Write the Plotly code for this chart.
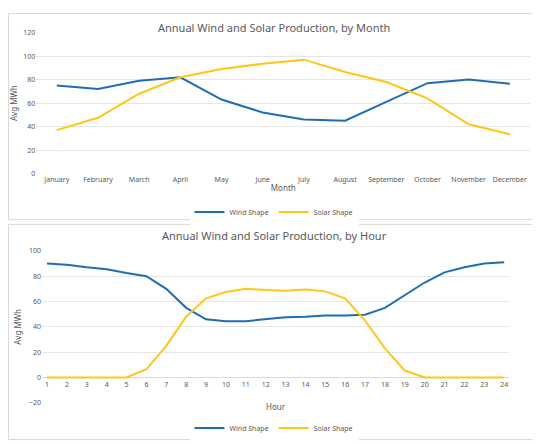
import plotly.graph_objects as go
from plotly.subplots import make_subplots

months = ["January", "February", "March", "April", "May", "June", "July",
          "August", "September", "October", "November", "December"]
month_wind = [75, 72, 79, 82, 63, 52, 46, 45, 61, 77, 80, 76.5]
month_solar = [37, 47.5, 68, 82, 89, 93.5, 97, 86.5, 78, 64, 42, 33.5]

hours = list(range(1, 25))
hour_wind = [90, 89, 87, 85.5, 82.5, 80, 70, 55, 46, 44.5, 44.5, 46, 47.5, 48,
             49, 49, 49.5, 55, 65, 75, 83, 87, 90, 91]
hour_solar = [0, 0, 0, 0, 0, 6.5, 25, 48, 62.5, 67.5, 70, 69, 68.5, 69.5, 68,
              62.5, 45, 23, 5.5, 0, 0, 0, 0, 0]

BLUE = "#1F6EB3"
YELLOW = "#FFC61A"
FONT = "Noto Sans"
GRID = "#e6e6e6"

fig = make_subplots(rows=2, cols=1)

fig.add_trace(go.Scatter(x=months, y=month_wind, name="Wind Shape", mode="lines",
                         line=dict(color=BLUE, width=2), legend="legend"), row=1, col=1)
fig.add_trace(go.Scatter(x=months, y=month_solar, name="Solar Shape", mode="lines",
                         line=dict(color=YELLOW, width=2), legend="legend"), row=1, col=1)
fig.add_trace(go.Scatter(x=hours, y=hour_wind, name="Wind Shape", mode="lines",
                         line=dict(color=BLUE, width=2), legend="legend2"), row=2, col=1)
fig.add_trace(go.Scatter(x=hours, y=hour_solar, name="Solar Shape", mode="lines",
                         line=dict(color=YELLOW, width=2), legend="legend2"), row=2, col=1)

tickfont = dict(family=FONT, size=7, color="#595959")
titlefont = dict(family=FONT, size=8, color="#595959")

fig.update_xaxes(domain=[0.053, 0.982], range=[-0.5, 11.5], showgrid=False,
                 tickfont=tickfont, title=dict(text="Month", font=titlefont, standoff=2),
                 ticks="", row=1, col=1)
fig.update_yaxes(domain=[0.624, 0.954], range=[0, 120], dtick=20, gridcolor=GRID,
                 tickfont=tickfont, title=dict(text="Avg MWh", font=titlefont, standoff=6),
                 zeroline=False, row=1, col=1)
fig.update_xaxes(domain=[0.064, 0.942], range=[0.75, 24.25], dtick=1, showgrid=False,
                 tickfont=tickfont, anchor="free", position=0.144, ticks="", row=2, col=1)
fig.update_yaxes(domain=[0.087, 0.443], range=[-20, 100], dtick=20, gridcolor=GRID,
                 tickfont=tickfont, title=dict(text="Avg MWh", font=titlefont, standoff=6),
                 zeroline=True, zerolinecolor="#d9d9d9", zerolinewidth=1, row=2, col=1)

fig.add_shape(type="rect", xref="paper", yref="paper", x0=0.001, x1=0.999, y0=0.516, y1=0.999,
              line=dict(color="#d9d9d9", width=1), layer="below")
fig.add_shape(type="rect", xref="paper", yref="paper", x0=0.001, x1=0.999, y0=0.001, y1=0.505,
              line=dict(color="#d9d9d9", width=1), layer="below")

fig.add_annotation(text="Annual Wind and Solar Production, by Month", xref="paper", yref="paper",
                   x=0.5, y=0.989, showarrow=False, font=dict(family=FONT, size=11, color="#595959"))
fig.add_annotation(text="Annual Wind and Solar Production, by Hour", xref="paper", yref="paper",
                   x=0.5, y=0.479, showarrow=False, font=dict(family=FONT, size=11, color="#595959"))
fig.add_annotation(text="Hour", xref="paper", yref="paper", x=0.503, y=0.062,
                   showarrow=False, font=titlefont)

legfont = dict(family=FONT, size=7, color="#595959")
fig.update_layout(
    width=532, height=436, margin=dict(l=0, r=0, t=0, b=0),
    paper_bgcolor="white", plot_bgcolor="white",
    legend=dict(orientation="h", x=0.5, xanchor="center", y=0.534, yanchor="middle",
                font=legfont, itemwidth=30),
    legend2=dict(orientation="h", x=0.5, xanchor="center", y=0.028, yanchor="middle",
                 font=legfont, itemwidth=30),
)

fig.write_html("out.html")
